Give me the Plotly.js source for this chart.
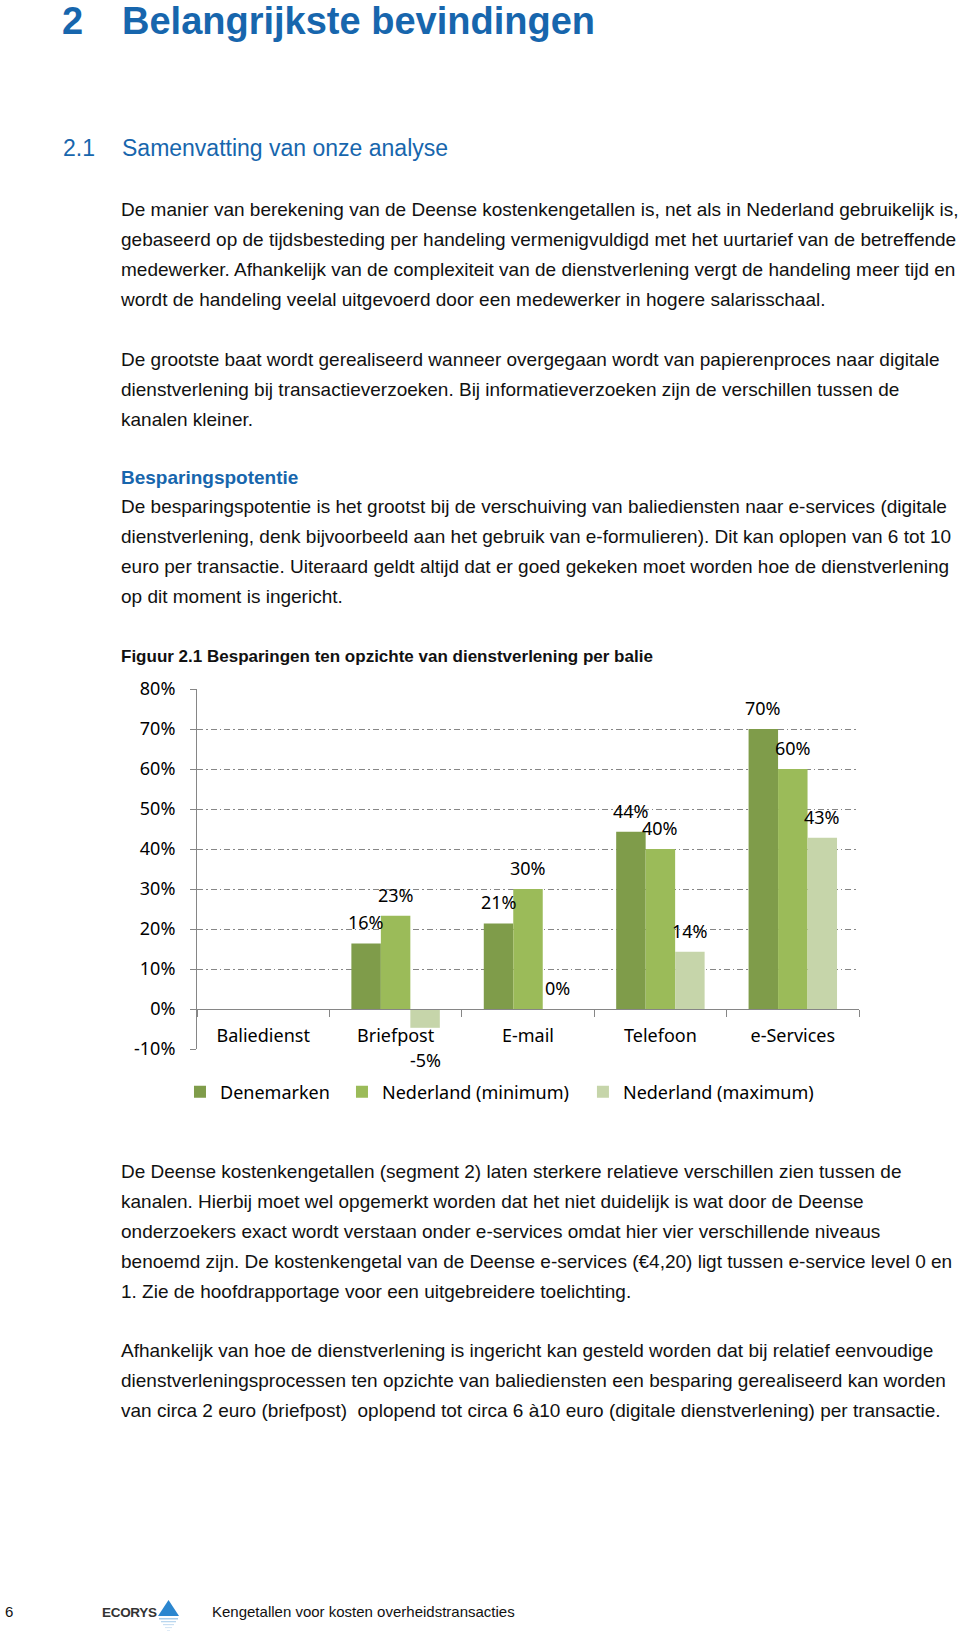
<!DOCTYPE html>
<html><head><meta charset="utf-8">
<script src="https://cdn.plot.ly/plotly-3.0.1.min.js"></script>
<style>
html,body{margin:0;padding:0;background:#fff}
body{width:960px;height:1636px;position:relative;overflow:hidden;font-family:"Liberation Sans",Arial,sans-serif;color:#111}
.abs{position:absolute;white-space:pre;margin:0}
.h1{font-size:38px;line-height:44px;font-weight:bold;color:#1766ad;top:-1px}
.h2{font-size:23px;line-height:28px;color:#1766ad;top:134px}
.p{font-size:19px;line-height:29.9px;left:121px}
.blue{color:#1766ad;font-weight:bold}
#chart{position:absolute;left:0;top:630px;width:960px;height:490px}
.foot{font-size:15px;line-height:18px;top:1603px}
</style>
</head><body>
<div class="abs h1" style="left:62px">2</div>
<div class="abs h1" style="left:122px">Belangrijkste bevindingen</div>
<div class="abs h2" style="left:63px">2.1</div>
<div class="abs h2" style="left:122px">Samenvatting van onze analyse</div>

<div class="abs p" style="top:195.2px">De manier van berekening van de Deense kostenkengetallen is, net als in Nederland gebruikelijk is,
gebaseerd op de tijdsbesteding per handeling vermenigvuldigd met het uurtarief van de betreffende
medewerker. Afhankelijk van de complexiteit van de dienstverlening vergt de handeling meer tijd en
wordt de handeling veelal uitgevoerd door een medewerker in hogere salarisschaal.</div>

<div class="abs p" style="top:345px">De grootste baat wordt gerealiseerd wanneer overgegaan wordt van papierenproces naar digitale
dienstverlening bij transactieverzoeken. Bij informatieverzoeken zijn de verschillen tussen de
kanalen kleiner.</div>

<div class="abs p" style="top:462.5px"><span class="blue">Besparingspotentie</span>
De besparingspotentie is het grootst bij de verschuiving van baliediensten naar e-services (digitale
dienstverlening, denk bijvoorbeeld aan het gebruik van e-formulieren). Dit kan oplopen van 6 tot 10
euro per transactie. Uiteraard geldt altijd dat er goed gekeken moet worden hoe de dienstverlening
op dit moment is ingericht.</div>

<div id="chart"></div>

<div class="abs p" style="top:1157.2px">De Deense kostenkengetallen (segment 2) laten sterkere relatieve verschillen zien tussen de
kanalen. Hierbij moet wel opgemerkt worden dat het niet duidelijk is wat door de Deense
onderzoekers exact wordt verstaan onder e-services omdat hier vier verschillende niveaus
benoemd zijn. De kostenkengetal van de Deense e-services (€4,20) ligt tussen e-service level 0 en
1. Zie de hoofdrapportage voor een uitgebreidere toelichting.</div>

<div class="abs p" style="top:1335.8px">Afhankelijk van hoe de dienstverlening is ingericht kan gesteld worden dat bij relatief eenvoudige
dienstverleningsprocessen ten opzichte van baliediensten een besparing gerealiseerd kan worden
van circa 2 euro (briefpost)  oplopend tot circa 6 à10 euro (digitale dienstverlening) per transactie.</div>

<div class="abs foot" style="left:5px">6</div>
<div class="abs foot" style="left:102px;font-weight:bold;font-size:13.5px;letter-spacing:-0.3px;color:#333;top:1604px">ECORYS</div>
<svg class="abs" style="left:150px;top:1596px" width="40" height="40" viewBox="0 0 40 40">
  <polygon points="8,20 29,20 18.5,4" fill="#2b86cf"/>
  <rect x="9" y="22" width="19" height="1.5" fill="#a9cdea"/>
  <rect x="11" y="25" width="15" height="1.3" fill="#b9d6ee"/>
  <rect x="13" y="28" width="11" height="1.2" fill="#c9dff2"/>
  <rect x="15" y="31" width="7" height="1.1" fill="#d6e6f5"/>
  <rect x="17" y="34" width="3" height="1" fill="#e0ecf7"/>
</svg>
<div class="abs foot" style="left:212px">Kengetallen voor kosten overheidstransacties</div>

<script>
// ---- data ----
const categories = ['Baliedienst', 'Briefpost', 'E-mail', 'Telefoon', 'e-Services'];
const seriesNames = ['Denemarken', 'Nederland (minimum)', 'Nederland (maximum)'];
const denemarken = [null, 16.4, 21.4, 44.3, 70.0];
const nederlandMin = [null, 23.3, 30.0, 40.0, 60.0];
const nederlandMax = [null, -4.7, 0.0, 14.3, 42.8];
const yTickVals = [-10, 0, 10, 20, 30, 40, 50, 60, 70, 80];

// ---- styling ----
const colors = ['#7f9c4a', '#9bbb59', '#c6d5aa'];
const legendIds = ['legend', 'legend2', 'legend3'];
const legendX = [-0.0257, 0.219, 0.583];
const seriesValues = [denemarken, nederlandMin, nederlandMax];
const bargap = 0.332;
const barW = (1 - bargap) / seriesValues.length;

const traces = seriesValues.map((vals, j) => ({
  type: 'bar',
  name: seriesNames[j],
  x: categories,
  y: vals,
  legend: legendIds[j],
  marker: {color: colors[j], line: {width: 0}},
  hoverinfo: 'skip'
}));

const annotations = [];
seriesValues.forEach((vals, j) => {
  vals.forEach((v, i) => {
    if (v === null) return;
    annotations.push({
      xref: 'x', yref: 'y',
      x: i + (j - (seriesValues.length - 1) / 2) * barW,
      y: v,
      text: Math.round(v) + '%',
      showarrow: false,
      xanchor: 'center', yanchor: 'middle',
      yshift: v < 0 ? -32 : 21,
      font: {family: 'Noto Sans', size: 18, color: '#000'}
    });
  });
});

const legendFont = {family: 'Noto Sans', size: 18, color: '#000'};

const layout = {
  width: 960, height: 490,
  margin: {l: 197, r: 101, t: 59, b: 71, pad: 0, autoexpand: false},
  paper_bgcolor: 'rgba(0,0,0,0)', plot_bgcolor: 'rgba(0,0,0,0)',
  font: {family: 'Noto Sans', size: 18, color: '#000'},
  title: {
    text: '<b>Figuur 2.1 Besparingen ten opzichte van dienstverlening per balie</b>',
    font: {family: 'Liberation Sans', size: 17, color: '#111'},
    xref: 'container', x: 121 / 960, xanchor: 'left',
    yref: 'container', y: 1 - 26 / 490, yanchor: 'middle'
  },
  barmode: 'group', bargap: bargap, bargroupgap: 0,
  showlegend: true,
  xaxis: {
    type: 'category', anchor: 'free', position: 10 / 90,
    range: [-0.5, categories.length - 0.5],
    showline: true, linecolor: '#868686', linewidth: 1,
    ticks: 'outside', tickson: 'boundaries', ticklen: 7, tickcolor: '#868686', tickwidth: 1,
    showgrid: false, zeroline: false, ticklabelstandoff: 10,
    tickfont: {family: 'Noto Sans', size: 18, color: '#000'}
  },
  yaxis: {
    range: [-10, 80], tickvals: yTickVals, ticktext: yTickVals.map(v => v + '%'),
    showline: true, linecolor: '#868686', linewidth: 1,
    ticks: 'outside', ticklen: 6, tickcolor: '#868686', tickwidth: 1,
    showgrid: true, gridcolor: '#868686', gridwidth: 1, griddash: '6px,3px,1.5px,3px',
    zeroline: false, ticklabelstandoff: 11,
    tickfont: {family: 'Noto Sans', size: 18, color: '#000'}
  },
  annotations: annotations
};
legendIds.forEach((id, j) => {
  layout[id] = {
    orientation: 'h', x: legendX[j], xanchor: 'left', y: -0.1194, yanchor: 'middle',
    font: legendFont, bgcolor: 'rgba(0,0,0,0)'
  };
});

Plotly.newPlot('chart', traces, layout, {staticPlot: true, displayModeBar: false});
</script>
</body></html>
